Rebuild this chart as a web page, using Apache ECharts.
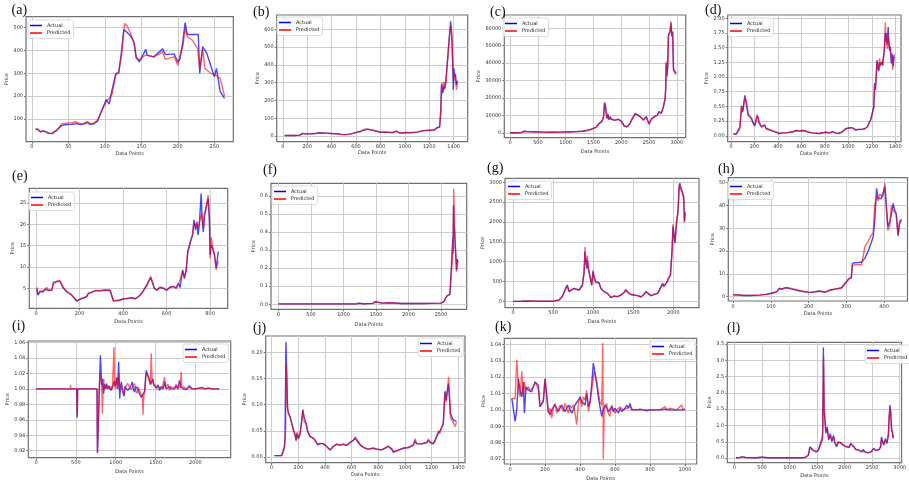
<!DOCTYPE html>
<html><head><meta charset="utf-8">
<script src="https://cdn.jsdelivr.net/npm/echarts@6/dist/echarts.min.js"></script>
<style>html,body{margin:0;padding:0;background:#fff}#c{width:909px;height:483px}</style>
</head><body><div id="c"></div>
<script>
// ---------------- DATA ----------------
const seriesNames = ['Actual', 'Predicted'];
const panelLabels = ['(a)','(b)','(c)','(d)','(e)','(f)','(g)','(h)','(i)','(j)','(k)','(l)'];
const xAxisTitle = 'Data Points';
const yAxisTitle = 'Price';

// (a)
const aX = [0,50,100,150,200,250];
const aY = [100,200,300,400,500];
const aActual = [[5,55],[8,54],[12,45],[15,48],[19,44],[23,38],[28,36],[34,52],[41,72],[48,76],[55,77],[62,80],[67,76],[71,78],[76,84],[80,76],[85,79],[90,90],[96,140],[102,185],[106,165],[110,230],[115,300],[119,302],[123,400],[126,492],[131,478],[136,460],[140,438],[143,372],[147,350],[151,372],[156,405],[158,380],[167,372],[175,395],[179,408],[183,382],[195,385],[200,350],[203,362],[207,440],[210,522],[213,470],[220,470],[228,470],[230,300],[234,417],[240,385],[250,285],[253,322],[258,220],[264,190]];
const aPredicted = [[5,55],[8,56],[12,42],[15,47],[19,46],[23,37],[28,38],[34,48],[41,78],[48,82],[55,84],[60,88],[67,78],[71,80],[76,90],[80,80],[85,82],[90,95],[96,135],[102,178],[106,190],[110,210],[115,292],[119,305],[123,380],[127,519],[131,504],[136,470],[140,430],[143,365],[147,360],[151,368],[156,380],[167,372],[175,385],[179,395],[183,361],[195,373],[200,336],[203,380],[207,420],[210,497],[213,461],[220,445],[227,409],[230,322],[234,405],[237,322],[245,300],[252,293],[258,278],[264,200]];

// (b)
const bX = [0,200,400,600,800,1000,1200,1400];
const bY = [0,100,200,300,400,500,600];
const bActual = [[15,3],[60,3],[100,3],[140,5],[160,15],[175,20],[190,12],[230,12],[270,14],[300,18],[350,16],[400,14],[450,13],[480,8],[520,8],[560,12],[600,20],[640,27],[680,38],[700,37],[730,33],[760,28],[800,21],[850,22],[900,19],[930,28],[950,18],[980,17],[1000,20],[1050,18],[1100,22],[1150,30],[1200,32],[1240,33],[1260,45],[1285,52],[1295,150],[1300,290],[1310,240],[1318,280],[1325,262],[1335,300],[1350,430],[1365,560],[1375,645],[1385,560],[1392,400],[1397,260],[1402,380],[1408,330],[1415,350],[1422,285],[1428,310],[1432,300]];
const bPredicted = [[15,3],[60,3],[100,3],[140,5],[160,12],[175,15],[190,12],[230,12],[270,15],[300,17],[350,16],[400,14],[450,13],[480,9],[520,8],[560,12],[600,19],[640,26],[680,36],[700,38],[730,34],[760,29],[800,22],[850,21],[900,20],[930,26],[950,19],[980,17],[1000,19],[1050,19],[1100,22],[1150,29],[1200,32],[1240,34],[1260,44],[1285,50],[1295,140],[1300,260],[1305,300],[1312,250],[1320,305],[1327,270],[1338,310],[1352,440],[1367,570],[1378,620],[1387,540],[1394,380],[1400,310],[1405,350],[1412,340],[1418,300],[1424,260],[1430,310]];

// (c)
const cX = [0,500,1000,1500,2000,2500,3000];
const cY = [0,10000,20000,30000,40000,50000,60000];
const cActual = [[0,100],[100,150],[200,300],[220,1100],[260,1000],[300,800],[400,700],[500,600],[600,500],[700,450],[800,450],[900,500],[1000,600],[1100,700],[1200,800],[1300,1000],[1400,1600],[1450,2000],[1500,2700],[1550,3200],[1600,5500],[1650,6500],[1680,9000],[1700,17500],[1715,16000],[1730,11000],[1745,8500],[1760,11000],[1780,7500],[1800,9400],[1820,7800],[1850,8600],[1880,7200],[1900,7500],[1950,7800],[2000,6800],[2030,5500],[2050,4000],[2100,3600],[2150,5200],[2200,8400],[2250,11000],[2270,10000],[2300,10300],[2350,9000],[2400,7500],[2450,9400],[2480,10000],[2500,5200],[2530,7000],[2550,8400],[2600,9400],[2650,10300],[2680,12200],[2720,11300],[2760,15100],[2790,19900],[2800,25000],[2810,40000],[2820,32300],[2835,38000],[2850,56200],[2880,58100],[2895,62900],[2910,55300],[2925,58100],[2940,36100],[2960,35200],[2990,34200]];
const cPredicted = [[0,100],[100,150],[200,300],[220,1000],[260,1000],[300,800],[400,700],[500,600],[600,500],[700,450],[800,450],[900,500],[1000,600],[1100,700],[1200,800],[1300,1000],[1400,1600],[1450,2000],[1500,2600],[1550,3300],[1600,5300],[1650,6600],[1680,8800],[1700,16800],[1715,17000],[1730,12000],[1745,8000],[1760,10500],[1780,8000],[1800,9000],[1820,8200],[1850,8300],[1880,7500],[1900,7300],[1950,7900],[2000,6600],[2030,5800],[2050,4100],[2100,3500],[2150,5000],[2200,8000],[2250,11300],[2270,10400],[2300,10000],[2350,9200],[2400,7300],[2450,9200],[2480,10200],[2500,5000],[2530,7300],[2550,8200],[2600,9600],[2650,10100],[2680,12500],[2720,11000],[2760,15500],[2790,19500],[2800,26000],[2810,41000],[2820,33000],[2835,37000],[2850,55500],[2880,58500],[2895,64000],[2910,56000],[2925,57500],[2940,37500],[2960,34500],[2990,33500]];

// (d)
const dX = [0,200,400,600,800,1000,1200,1400];
const dY = [0,0.25,0.5,0.75,1.0,1.25,1.5,1.75,2.0];
const dActual = [[20,0.03],[45,0.03],[62,0.04],[76,0.15],[90,0.5],[97,0.4],[104,0.45],[118,0.69],[125,0.62],[132,0.6],[146,0.35],[160,0.32],[175,0.3],[189,0.21],[203,0.17],[215,0.28],[223,0.34],[231,0.3],[239,0.22],[250,0.2],[259,0.15],[270,0.17],[287,0.18],[300,0.12],[315,0.1],[358,0.08],[414,0.04],[440,0.05],[470,0.05],[527,0.07],[560,0.09],[583,0.08],[610,0.09],[639,0.08],[660,0.06],[696,0.05],[752,0.04],[808,0.06],[840,0.05],[865,0.07],[890,0.05],[921,0.04],[950,0.07],[977,0.12],[1020,0.14],[1040,0.13],[1062,0.1],[1090,0.11],[1118,0.11],[1140,0.12],[1161,0.15],[1175,0.18],[1189,0.27],[1203,0.38],[1217,0.5],[1224,0.9],[1231,0.78],[1238,1.05],[1245,1.29],[1252,1.15],[1259,1.1],[1266,1.25],[1273,1.2],[1280,1.22],[1287,1.26],[1294,1.2],[1301,1.23],[1308,1.5],[1315,1.75],[1320,1.6],[1324,1.74],[1330,1.55],[1335,1.57],[1340,1.85],[1344,1.6],[1352,1.45],[1358,1.52],[1366,1.23],[1372,1.4],[1378,1.3],[1383,1.18],[1390,1.38]];
const dPredicted = [[20,0.03],[45,0.03],[62,0.05],[76,0.12],[90,0.52],[97,0.42],[104,0.4],[118,0.64],[125,0.66],[132,0.58],[146,0.38],[160,0.34],[175,0.28],[189,0.23],[203,0.17],[215,0.26],[223,0.36],[231,0.32],[239,0.24],[250,0.2],[259,0.16],[270,0.16],[287,0.19],[300,0.13],[315,0.1],[358,0.08],[414,0.04],[440,0.05],[470,0.05],[527,0.07],[560,0.09],[583,0.08],[610,0.09],[639,0.08],[660,0.06],[696,0.05],[752,0.04],[808,0.06],[840,0.05],[865,0.07],[890,0.05],[921,0.04],[950,0.07],[977,0.12],[1020,0.14],[1040,0.13],[1062,0.1],[1090,0.11],[1118,0.11],[1140,0.12],[1161,0.15],[1175,0.17],[1189,0.26],[1203,0.36],[1217,0.48],[1224,0.85],[1231,0.8],[1238,1.0],[1245,1.25],[1252,1.2],[1259,1.12],[1266,1.32],[1273,1.18],[1280,1.25],[1287,1.2],[1294,1.22],[1301,1.2],[1308,1.45],[1315,1.93],[1320,1.7],[1324,1.6],[1330,1.6],[1335,1.48],[1340,1.7],[1344,1.65],[1352,1.5],[1358,1.45],[1366,1.3],[1372,1.35],[1378,1.12],[1383,1.25],[1390,1.35]];

// (e)
const eX = [0,200,400,600,800];
const eY = [5,10,15,20,25];
const eActual = [[3,5.0],[8,3.4],[18,4.2],[26,4.6],[34,4.2],[41,4.8],[49,5.0],[57,4.5],[65,4.7],[72,4.6],[80,6.4],[87,6.2],[98,6.7],[110,6.6],[126,5.0],[141,4.2],[164,3.4],[179,2.5],[187,2.0],[202,2.5],[218,2.7],[233,3.1],[241,3.8],[256,4.1],[271,4.4],[279,4.6],[294,4.4],[317,4.6],[340,4.5],[348,4.1],[356,2.0],[379,2.2],[402,2.5],[425,2.7],[440,2.8],[455,2.5],[471,3.1],[486,3.8],[493,4.4],[509,5.8],[527,7.5],[536,6.2],[543,5.0],[555,4.6],[570,5.2],[585,5.0],[601,4.6],[616,5.3],[631,5.4],[644,5.1],[654,6.2],[662,5.2],[674,9.3],[682,7.3],[690,9.3],[697,13.6],[708,15.5],[720,17.5],[726,21.0],[733,18.6],[739,20.6],[745,17.5],[751,20.2],[759,27.2],[763,21.4],[769,18.2],[774,21.7],[780,23.7],[785,24.5],[791,26.0],[797,21.0],[800,12.8],[805,15.1],[811,14.5],[820,12.8],[828,9.8],[838,13.6]];
const ePredicted = [[3,5.2],[8,3.6],[18,4.4],[26,4.8],[34,4.4],[41,4.6],[49,5.2],[57,4.6],[65,4.8],[72,4.5],[80,6.0],[87,6.4],[98,6.6],[110,6.8],[126,5.2],[141,4.3],[164,3.5],[179,2.6],[187,2.1],[202,2.4],[218,2.8],[233,3.0],[241,3.9],[256,4.0],[271,4.5],[279,4.5],[294,4.5],[317,4.5],[340,4.6],[348,4.3],[356,2.2],[379,2.1],[402,2.6],[425,2.6],[440,2.9],[455,2.6],[471,3.0],[486,3.9],[493,4.3],[509,5.6],[527,7.8],[536,6.4],[543,5.2],[555,4.5],[570,5.3],[585,5.1],[601,4.5],[616,5.2],[631,5.5],[644,5.0],[654,5.8],[662,5.4],[674,9.0],[682,7.6],[690,9.0],[697,13.0],[708,15.8],[720,17.8],[726,20.5],[733,19.5],[739,20.0],[745,19.0],[751,20.5],[759,22.0],[763,22.5],[769,19.0],[774,22.5],[780,23.0],[785,25.0],[791,26.8],[797,22.0],[800,12.0],[805,17.0],[811,15.0],[820,13.0],[828,9.3],[838,11.5]];

// (f)
const fX = [0,500,1000,1500,2000,2500];
const fY = [0,0.1,0.2,0.3,0.4,0.5,0.6];
const fActual = [[0,0.002],[500,0.002],[1000,0.002],[1200,0.003],[1250,0.006],[1300,0.003],[1450,0.005],[1490,0.014],[1520,0.008],[1600,0.006],[1700,0.008],[1720,0.005],[1900,0.004],[2200,0.004],[2500,0.006],[2545,0.015],[2570,0.035],[2596,0.048],[2637,0.055],[2665,0.066],[2675,0.32],[2680,0.37],[2685,0.28],[2692,0.55],[2700,0.45],[2710,0.4],[2718,0.33],[2728,0.33],[2740,0.19],[2750,0.25],[2760,0.23]];
const fPredicted = [[0,0.002],[500,0.002],[1000,0.002],[1200,0.003],[1250,0.005],[1300,0.003],[1450,0.005],[1490,0.013],[1520,0.008],[1600,0.006],[1700,0.008],[1720,0.005],[1900,0.004],[2200,0.004],[2500,0.006],[2545,0.014],[2570,0.033],[2596,0.047],[2637,0.055],[2665,0.064],[2675,0.25],[2680,0.33],[2686,0.3],[2695,0.64],[2705,0.5],[2712,0.38],[2720,0.32],[2738,0.18],[2750,0.24],[2760,0.22]];

// (g)
const gX = [0,500,1000,1500,2000];
const gY = [0,500,1000,1500,2000,2500,3000];
const gActual = [[0,0],[100,2],[200,8],[300,5],[400,3],[500,5],[572,34],[614,118],[656,328],[677,412],[698,244],[719,202],[760,328],[781,286],[823,286],[844,328],[865,412],[886,706],[898,1252],[906,1126],[919,832],[927,1042],[940,832],[952,874],[969,538],[982,412],[998,748],[1011,622],[1032,496],[1053,454],[1074,470],[1095,328],[1115,286],[1136,244],[1178,202],[1220,92],[1261,134],[1303,118],[1345,160],[1387,227],[1408,286],[1429,244],[1450,190],[1470,160],[1512,160],[1554,143],[1596,109],[1637,176],[1658,244],[1679,200],[1721,143],[1763,176],[1805,202],[1826,160],[1846,370],[1867,454],[1880,370],[1900,429],[1921,496],[1938,580],[1951,622],[1963,664],[1972,916],[1984,1294],[1996,1882],[2009,1672],[2021,1462],[2030,1756],[2042,2008],[2055,2218],[2063,2428],[2072,2848],[2080,2974],[2097,2848],[2118,2722],[2130,2638],[2138,2008],[2147,2260]];
const gPredicted = [[0,0],[100,2],[200,8],[300,5],[400,3],[500,5],[572,30],[614,110],[656,310],[677,380],[698,260],[719,210],[760,320],[781,290],[823,280],[844,320],[865,400],[886,760],[898,1370],[906,1000],[919,900],[927,1150],[940,800],[952,850],[969,560],[982,400],[998,780],[1011,600],[1032,470],[1053,460],[1074,450],[1095,340],[1115,280],[1136,250],[1178,200],[1220,100],[1261,130],[1303,120],[1345,155],[1387,230],[1408,300],[1429,240],[1450,195],[1470,165],[1512,155],[1554,145],[1596,115],[1637,180],[1658,250],[1679,205],[1721,140],[1763,180],[1805,200],[1826,165],[1846,350],[1867,440],[1880,380],[1900,420],[1921,480],[1938,560],[1951,600],[1963,640],[1972,880],[1984,1200],[1996,1950],[2009,1600],[2021,1500],[2030,1700],[2042,2100],[2055,2200],[2063,2500],[2072,2950],[2080,2900],[2097,2800],[2118,2680],[2130,2550],[2138,2000],[2147,2200]];

// (h)
const hX = [0,100,200,300,400];
const hY = [0,10,20,30,40,50];
const hActual = [[0,0.7],[9,0.8],[26,0.5],[44,0.5],[71,0.7],[88,1.0],[101,1.5],[115,2.2],[122,3.7],[128,3.2],[134,3.7],[141,3.9],[154,3.4],[177,2.5],[203,1.8],[229,2.5],[243,1.9],[256,2.9],[274,3.4],[287,3.9],[291,4.7],[300,6.6],[307,8.0],[313,8.3],[316,14.6],[322,14.9],[331,15.0],[340,15.2],[344,14.6],[349,16.8],[357,19.7],[366,23.8],[371,26.3],[375,32.9],[380,47.5],[384,43.1],[388,43.4],[393,43.1],[397,42.8],[402,48.2],[406,40.2],[410,30.7],[415,32.9],[419,35.8],[424,40.9],[428,38.0],[432,36.5],[437,27.0],[441,32.2],[446,33.6]];
const hPredicted = [[0,1.0],[9,0.9],[26,0.6],[44,0.5],[71,0.8],[88,1.1],[101,1.4],[115,2.0],[122,3.4],[128,3.5],[134,3.5],[141,4.1],[154,3.6],[177,2.6],[203,1.9],[229,2.4],[243,2.0],[256,2.7],[274,3.5],[287,3.7],[291,4.4],[300,6.2],[307,7.8],[313,8.0],[316,13.5],[322,14.0],[331,14.0],[340,14.0],[344,17.0],[349,22.0],[357,24.0],[366,27.0],[371,28.0],[375,40.0],[380,44.0],[384,42.0],[388,45.0],[393,45.0],[397,44.0],[402,49.7],[406,38.0],[410,29.0],[415,31.0],[419,40.0],[424,38.0],[428,37.0],[432,36.0],[437,26.5],[441,33.0],[446,34.1]];

// (i)
const iX = [0,500,1000,1500,2000];
const iY = [0.92,0.94,0.96,0.98,1.00,1.02,1.04,1.06];
const iActual = [[0,1.0],[300,1.0],[510,1.0],[517,0.963],[522,1.0],[700,1.0],[710,1.002],[720,1.0],[765,1.0],[771,0.917],[792,0.989],[808,1.0435],[817,1.02],[825,1.005],[833,1.013],[842,1.0],[850,0.994],[858,1.006],[867,1.003],[875,1.0],[883,1.007],[900,1.0],[912,1.004],[925,1.003],[940,0.998],[958,1.0],[970,1.006],[980,1.01],[992,1.004],[1002,1.008],[1013,1.015],[1025,1.0],[1037,1.035],[1050,0.9875],[1060,1.002],[1070,1.009],[1085,1.0],[1104,0.9905],[1118,1.003],[1133,1.005],[1150,0.998],[1175,0.996],[1190,1.004],[1208,1.009],[1220,1.0],[1237,0.996],[1250,1.003],[1267,1.005],[1280,1.0],[1292,0.995],[1305,0.993],[1321,0.989],[1342,0.9875],[1363,0.997],[1375,1.015],[1383,1.024],[1395,1.02],[1404,1.022],[1415,1.015],[1425,1.011],[1440,1.006],[1455,1.01],[1467,1.013],[1478,1.005],[1488,1.007],[1510,1.002],[1533,1.005],[1550,0.998],[1570,1.003],[1596,1.0],[1613,1.009],[1633,1.0],[1655,0.998],[1675,1.003],[1695,1.0],[1717,0.998],[1737,1.0],[1760,1.004],[1779,1.0],[1800,1.011],[1821,1.002],[1850,1.0],[1883,0.999],[1925,1.004],[1960,1.0],[2000,1.0],[2040,1.001],[2083,1.002],[2120,1.0],[2167,1.001],[2210,1.0],[2250,1.0],[2300,1.0]];
const iPredicted = [[0,1.0],[430,1.0],[433,1.005],[436,1.0],[510,1.0],[517,0.966],[522,1.0],[765,1.0],[771,0.918],[792,0.995],[800,1.02],[810,1.01],[817,1.016],[825,1.0],[833,0.968],[842,1.005],[850,1.013],[858,1.0],[867,0.998],[875,1.004],[883,1.006],[900,1.0],[912,1.003],[925,1.0],[940,1.003],[958,1.0],[970,1.002],[979,1.054],[986,1.002],[992,1.005],[1002,1.0],[1013,1.013],[1025,1.006],[1037,1.02],[1050,0.998],[1060,1.006],[1070,1.004],[1085,0.997],[1104,0.993],[1118,1.002],[1133,1.003],[1150,1.007],[1175,1.006],[1190,0.999],[1208,0.999],[1220,1.004],[1237,1.007],[1250,0.998],[1267,0.994],[1280,1.002],[1300,1.004],[1310,0.995],[1321,0.99],[1335,0.993],[1342,0.967],[1352,0.99],[1363,0.998],[1375,1.01],[1383,1.02],[1395,1.022],[1404,1.016],[1415,1.012],[1425,1.009],[1435,1.005],[1446,1.0457],[1456,1.01],[1467,1.008],[1478,1.01],[1488,1.005],[1510,1.0],[1533,1.003],[1550,1.001],[1571,1.0],[1590,1.004],[1613,1.0155],[1623,1.002],[1633,1.002],[1655,1.006],[1675,0.998],[1695,1.003],[1717,1.004],[1737,1.001],[1758,1.006],[1779,1.0],[1800,1.005],[1810,1.001],[1821,1.022],[1830,1.004],[1850,1.003],[1883,1.0],[1925,1.002],[1960,1.0],[2000,1.0],[2040,1.001],[2083,1.0],[2167,1.001],[2210,1.0],[2300,1.0]];

// (j)
const jX = [0,200,400,600,800,1000,1200,1400];
const jY = [0,0.05,0.10,0.15,0.20];
const jActual = [[20,0.0025],[50,0.0025],[75,0.0025],[88,0.002],[95,0.02],[100,0.039],[107,0.22],[118,0.096],[125,0.083],[138,0.077],[150,0.064],[163,0.052],[175,0.042],[183,0.032],[190,0.045],[200,0.036],[213,0.043],[225,0.071],[233,0.09],[243,0.077],[250,0.074],[260,0.061],[270,0.048],[287,0.039],[313,0.036],[325,0.032],[345,0.023],[363,0.026],[387,0.025],[413,0.02],[437,0.013],[450,0.015],[463,0.02],[487,0.024],[512,0.022],[537,0.024],[562,0.022],[587,0.027],[612,0.032],[625,0.036],[637,0.034],[650,0.027],[662,0.025],[675,0.02],[700,0.0166],[725,0.015],[762,0.0166],[787,0.0146],[825,0.0134],[850,0.0166],[875,0.02],[900,0.015],[912,0.009],[950,0.013],[987,0.0166],[1025,0.018],[1062,0.023],[1075,0.031],[1087,0.025],[1125,0.025],[1162,0.027],[1175,0.032],[1187,0.028],[1212,0.025],[1225,0.032],[1250,0.045],[1262,0.048],[1275,0.055],[1287,0.064],[1295,0.103],[1300,0.125],[1307,0.109],[1315,0.122],[1325,0.14],[1332,0.118],[1340,0.083],[1350,0.077],[1362,0.071],[1375,0.07],[1387,0.068]];
const jPredicted = [[20,0.0025],[50,0.0025],[75,0.0025],[88,0.002],[95,0.015],[100,0.03],[104,0.05],[110,0.176],[120,0.09],[127,0.085],[138,0.075],[150,0.066],[163,0.05],[175,0.044],[183,0.03],[190,0.047],[200,0.034],[213,0.045],[225,0.065],[235,0.09],[243,0.068],[250,0.07],[260,0.064],[270,0.05],[287,0.04],[313,0.035],[325,0.033],[345,0.024],[363,0.025],[387,0.026],[413,0.02],[437,0.014],[450,0.016],[463,0.02],[487,0.025],[512,0.022],[537,0.025],[562,0.022],[587,0.028],[612,0.031],[625,0.038],[637,0.035],[650,0.03],[662,0.024],[675,0.021],[700,0.017],[725,0.015],[762,0.017],[787,0.015],[825,0.0134],[850,0.017],[875,0.021],[900,0.016],[912,0.011],[950,0.013],[987,0.017],[1025,0.018],[1062,0.022],[1075,0.035],[1087,0.026],[1125,0.025],[1162,0.028],[1175,0.034],[1187,0.029],[1212,0.026],[1225,0.03],[1250,0.05],[1262,0.045],[1275,0.058],[1287,0.062],[1295,0.1],[1302,0.126],[1309,0.105],[1317,0.12],[1327,0.153],[1334,0.12],[1342,0.075],[1352,0.078],[1364,0.065],[1375,0.058],[1387,0.066]];

// (k)
const kX = [0,200,400,600,800,1000];
const kY = [0.97,0.98,0.99,1.00,1.01,1.02,1.03,1.04];
const kActual = [[10,1.007],[19,1.007],[29,0.993],[38,1.0],[48,1.019],[57,1.012],[67,1.008],[76,1.017],[82,0.998],[91,1.014],[105,1.012],[114,1.013],[124,1.011],[133,1.0145],[143,1.017],[152,1.016],[162,1.015],[171,1.002],[181,1.003],[190,1.005],[200,1.019],[210,1.008],[219,0.999],[229,0.997],[238,1.0],[248,0.999],[257,1.003],[267,1.001],[276,0.999],[286,1.0],[295,1.003],[305,1.002],[314,0.999],[324,1.001],[333,1.003],[343,1.002],[352,0.998],[362,1.0],[371,1.003],[381,1.004],[390,1.006],[400,1.0078],[410,1.005],[419,1.006],[429,1.003],[438,1.01],[448,1.002],[457,1.005],[467,1.016],[476,1.0286],[486,1.0225],[495,1.016],[505,1.008],[514,1.002],[524,0.996],[533,1.0],[543,1.003],[552,1.002],[562,0.999],[571,1.0],[581,1.002],[590,0.999],[600,1.001],[610,1.0],[619,0.998],[629,1.001],[638,0.999],[648,0.998],[657,1.001],[667,1.003],[676,1.001],[686,1.004],[695,1.0],[705,1.001],[724,1.0],[743,1.0005],[762,1.0],[781,0.9995],[800,1.0],[830,1.0],[857,1.0],[886,1.0005],[914,1.0],[950,1.0],[990,1.0],[1000,1.0006]];
const kPredicted = [[10,1.007],[19,1.007],[29,1.007],[38,1.0306],[48,1.014],[57,1.008],[67,1.0235],[76,1.008],[82,1.017],[91,1.012],[105,1.014],[114,1.012],[124,1.013],[133,1.014],[143,1.017],[152,1.015],[162,1.012],[171,1.002],[181,1.003],[190,1.006],[200,1.019],[210,1.008],[219,0.998],[229,1.001],[238,0.995],[248,1.002],[257,1.004],[267,0.998],[276,0.997],[286,1.003],[295,1.003],[305,0.999],[314,1.004],[324,1.004],[333,0.998],[343,1.003],[352,1.001],[362,1.003],[371,0.998],[381,0.991],[390,1.004],[400,1.008],[410,1.002],[419,1.008],[429,1.006],[438,1.012],[448,0.999],[457,1.004],[467,1.012],[481,1.0235],[495,1.018],[505,1.01],[514,1.005],[524,1.003],[530,1.0408],[533,0.97],[538,1.0],[543,1.002],[552,1.004],[562,0.998],[571,0.996],[581,1.003],[590,1.002],[600,0.998],[610,1.0],[629,1.002],[648,1.0],[667,1.001],[686,1.002],[705,1.0],[724,1.0],[762,1.0],[800,1.0],[857,1.0],[886,1.002],[895,1.0],[914,1.001],[950,1.0],[981,1.003],[990,1.0],[1000,1.0004]];

// (l)
const lX = [0,500,1000,1500,2000,2500,3000];
const lY = [0,0.5,1.0,1.5,2.0,2.5,3.0,3.5];
const lActual = [[29,0.01],[100,0.02],[143,0.04],[200,0.02],[400,0.01],[500,0.03],[600,0.01],[800,0.01],[1000,0.01],[1200,0.01],[1285,0.02],[1341,0.09],[1370,0.35],[1398,0.3],[1427,0.25],[1455,0.27],[1484,0.19],[1524,0.25],[1558,0.19],[1598,0.65],[1604,0.91],[1615,3.39],[1627,1.47],[1644,1.17],[1661,0.76],[1684,0.96],[1712,0.55],[1741,0.75],[1770,0.5],[1798,0.7],[1826,0.45],[1855,0.35],[1883,0.5],[1912,0.55],[1940,0.45],[1969,0.4],[2026,0.35],[2083,0.33],[2112,0.45],[2140,0.42],[2169,0.35],[2197,0.27],[2254,0.25],[2311,0.19],[2340,0.27],[2369,0.19],[2426,0.16],[2483,0.19],[2529,0.3],[2569,0.23],[2626,0.27],[2654,0.35],[2671,0.65],[2689,0.5],[2711,0.4],[2740,0.6],[2769,0.45],[2797,0.76],[2808,1.17],[2825,1.63],[2837,1.42],[2854,0.86],[2871,0.76],[2877,0.6],[2883,0.7]];
const lPredicted = [[29,0.01],[100,0.02],[143,0.04],[200,0.02],[400,0.01],[500,0.03],[600,0.01],[800,0.01],[1000,0.01],[1200,0.01],[1285,0.02],[1341,0.08],[1370,0.3],[1398,0.32],[1427,0.24],[1455,0.28],[1484,0.2],[1524,0.24],[1558,0.2],[1598,0.55],[1604,1.0],[1618,3.1],[1630,1.6],[1644,1.1],[1661,0.8],[1684,0.9],[1712,0.6],[1741,0.7],[1770,0.55],[1798,0.65],[1826,0.48],[1855,0.37],[1883,0.48],[1912,0.52],[1940,0.47],[1969,0.4],[2026,0.36],[2083,0.34],[2112,0.43],[2140,0.44],[2169,0.35],[2197,0.28],[2254,0.25],[2311,0.2],[2340,0.26],[2369,0.2],[2426,0.17],[2483,0.2],[2529,0.28],[2569,0.24],[2626,0.26],[2654,0.33],[2671,0.6],[2689,0.52],[2711,0.42],[2740,0.55],[2769,0.47],[2797,0.7],[2808,1.3],[2825,1.55],[2837,1.4],[2854,0.9],[2871,0.8],[2877,0.65],[2883,0.72]];

// ---------------- LAYOUT (pixel geometry, styles) ----------------
const panels = [
 {act:aActual,pred:aPredicted,xt:aX,yt:aY,xr:[-8,276],yr:[0.6,548],yd:0,g:[26,16.7,207.3,125],lg:[28,20],ttl:[11.5,3.5],yg:17,xg:10},
 {act:bActual,pred:bPredicted,xt:bX,yt:bY,xr:[-50,1515],yr:[-32,680],yd:0,g:[276.7,15,191,126.7],lg:[277,17],ttl:[253,5.5],yg:15,xg:9},
 {act:cActual,pred:cPredicted,xt:cX,yt:cY,xr:[-105,3160],yr:[-2700,67600],yd:0,g:[504.3,15,181.4,122.7],lg:[503,18],ttl:[490,5.5],yg:22.5,xg:12},
 {act:dActual,pred:dPredicted,xt:dX,yt:dY,xr:[-28,1449],yr:[-0.1,2.056],yd:2,g:[727.7,15,173.3,126.7],lg:[728,18],ttl:[705,3.5],yg:15,xg:10},
 {act:eActual,pred:ePredicted,xt:eX,yt:eY,xr:[-31,881],yr:[0.33,28.4],yd:0,g:[29.3,188.3,198.4,120],lg:[29,192],ttl:[12,169.5],yg:14,xg:11},
 {act:fActual,pred:fPredicted,xt:fX,yt:fY,xr:[-115,2895],yr:[-0.028,0.67],yd:1,g:[271,183.3,195.7,126],lg:[272,186],ttl:[263,163.5],yg:14.5,xg:12.5},
 {act:gActual,pred:gPredicted,xt:gX,yt:gY,xr:[-100,2320],yr:[-160,3100],yd:0,g:[505,178.3,194,129.4],lg:[506,181],ttl:[487,161.5],yg:17.5,xg:12},
 {act:hActual,pred:hPredicted,xt:hX,yt:hY,xr:[-13,462],yr:[-1.9,52.2],yd:0,g:[728.3,177.7,179.2,123.3],lg:[728,181],ttl:[718,162.5],yg:13.5,xg:10.5},
 {act:iActual,pred:iPredicted,xt:iX,yt:iY,xr:[-97,2443],yr:[0.911,1.062],yd:2,g:[28.3,341,202.4,116.7],lg:[183,344],ttl:[12,319.5],yg:17.5,xg:11.5},
 {act:jActual,pred:jPredicted,xt:jX,yt:jY,xr:[-45,1450],yr:[-0.011,0.231],yd:2,g:[265.7,336,199.3,126.7],lg:[418,338],ttl:[253,321.5],yg:16.5,xg:10},
 {act:kActual,pred:kPredicted,xt:kX,yt:kY,xr:[-33,1067],yr:[0.967,1.0437],yd:2,g:[504.3,338.3,192.4,125.7],lg:[650,341],ttl:[495,320.5],yg:17.5,xg:12.5},
 {act:lActual,pred:lPredicted,xt:lX,yt:lY,xr:[-130,3035],yr:[-0.14,3.55],yd:1,g:[727.3,342.3,184.7,120.4],lg:[865,345],ttl:[727,321.5],yg:11.5,xg:11}
];

const BLUE = '#0000ff', RED = '#ff0000';
const TXT = '#333';
const FONT = 'DejaVu Sans';
const grid = [], xAxis = [], yAxis = [], series = [], legend = [], title = [];
panels.forEach((p, i) => {
  grid.push({left:p.g[0], top:p.g[1], width:p.g[2], height:p.g[3], show:true, borderColor:'#707070', borderWidth:1.2, backgroundColor:'#fff', containLabel:false});
  xAxis.push({type:'value', gridIndex:i, min:p.xr[0], max:p.xr[1],
    name:xAxisTitle, nameLocation:'middle', nameGap:p.xg, nameTextStyle:{fontSize:5, color:TXT, fontFamily:FONT},
    axisLine:{show:false, onZero:false},
    axisTick:{show:true, length:2, lineStyle:{color:'#555', width:0.8}, customValues:p.xt},
    axisLabel:{fontSize:5, color:TXT, fontFamily:FONT, margin:3, customValues:p.xt, formatter:v=>String(Math.round(v)), showMinLabel:true, showMaxLabel:true},
    splitLine:{show:true, lineStyle:{color:'#cccccc', width:1}}});
  yAxis.push({type:'value', gridIndex:i, min:p.yr[0], max:p.yr[1],
    name:yAxisTitle, nameLocation:'middle', nameGap:p.yg, nameRotate:90, nameTextStyle:{fontSize:5, color:TXT, fontFamily:FONT},
    axisLine:{show:false, onZero:false},
    axisTick:{show:true, length:2, lineStyle:{color:'#555', width:0.8}, customValues:p.yt},
    axisLabel:{fontSize:5, color:TXT, fontFamily:FONT, margin:3, customValues:p.yt, formatter:v=>v.toFixed(p.yd)},
    splitLine:{show:true, lineStyle:{color:'#cccccc', width:1}}});
  series.push({type:'line', name:seriesNames[0], xAxisIndex:i, yAxisIndex:i, data:p.act, symbol:'none', color:BLUE,
    lineStyle:{color:BLUE, width:1.4, opacity:0.72}, z:2});
  series.push({type:'line', name:seriesNames[1], xAxisIndex:i, yAxisIndex:i, data:p.pred, symbol:'none', color:RED,
    lineStyle:{color:RED, width:1.4, opacity:0.6}, z:3});
  legend.push({left:p.lg[0], top:p.lg[1], orient:'vertical', selectedMode:false, data:seriesNames,
    icon:'rect', itemWidth:12, itemHeight:1.5, itemGap:2.5, padding:[3,3,3,2],
    backgroundColor:'rgba(255,255,255,0.85)', borderColor:'#d4d4d4', borderWidth:0.8, borderRadius:2,
    textStyle:{fontSize:5, color:'#222', fontFamily:FONT}});
  title.push({text:panelLabels[i], left:p.ttl[0], top:p.ttl[1], padding:0,
    textStyle:{fontFamily:'Liberation Serif', fontSize:14, fontWeight:'normal', color:'#111'}});
});

const chart = echarts.init(document.getElementById('c'), null, {renderer:'canvas', width:909, height:483});
chart.setOption({animation:false, backgroundColor:'#fff', grid, xAxis, yAxis, series, legend, title});
</script></body></html>
